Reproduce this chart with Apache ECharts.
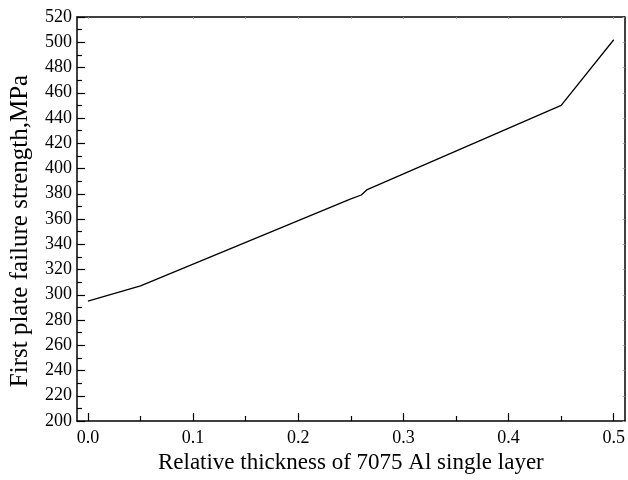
<!DOCTYPE html>
<html><head><meta charset="utf-8">
<script src="https://cdn.jsdelivr.net/npm/echarts@6/dist/echarts.min.js"></script>
<style>html,body{margin:0;padding:0;background:#fff}#c{width:628px;height:480px}</style>
</head><body><div id="c"></div>
<script>
var xValues = [0.0, 0.05, 0.25, 0.26, 0.265, 0.45, 0.5];
var strength = [295, 307, 376, 379, 383, 450, 502];
var xTickLabels = [0.0, 0.1, 0.2, 0.3, 0.4, 0.5];
var xMinorTicks = [0.05, 0.15, 0.25, 0.35, 0.45];
var xTopTicks = [0.0, 0.05, 0.1, 0.15, 0.2, 0.25, 0.3, 0.35, 0.4, 0.45, 0.5];
var xTitle = 'Relative thickness of 7075 Al single layer';
var yTitle = 'First plate failure strength,MPa';

var font = 'Liberation Serif';
var data = xValues.map(function (x, i) { return [x, strength[i]]; });
var chart = echarts.init(document.getElementById('c'));
var xMin = -0.0104, xMax = 0.5104;
chart.setOption({
  animation: false,
  grid: { left: 77, right: 1, top: 17, bottom: 59, containLabel: false },
  xAxis: [
    { type: 'value', min: xMin, max: xMax, position: 'bottom',
      axisLine: { show: true, onZero: false, lineStyle: { color: '#000', width: 1.5 } },
      axisTick: { show: true, inside: true, length: 8, customValues: xTickLabels, lineStyle: { color: '#000', width: 1.2 } },
      axisLabel: { show: true, customValues: xTickLabels, formatter: function (v) { return v.toFixed(1); },
        color: '#000', fontFamily: font, fontSize: 18, margin: 8 },
      splitLine: { show: false },
      name: xTitle, nameLocation: 'middle', nameGap: 27,
      nameTextStyle: { color: '#000', fontFamily: font, fontSize: 23 } },
    { type: 'value', min: xMin, max: xMax, position: 'bottom', gridIndex: 0,
      axisLine: { show: false, onZero: false },
      axisTick: { show: true, inside: true, length: 5, customValues: xMinorTicks, lineStyle: { color: '#000', width: 1.2 } },
      axisLabel: { show: false }, splitLine: { show: false } },
    { type: 'value', min: xMin, max: xMax, position: 'top', gridIndex: 0,
      axisLine: { show: true, onZero: false, lineStyle: { color: '#000', width: 1.5 } },
      axisTick: { show: true, inside: true, length: 2, customValues: xTopTicks, lineStyle: { color: '#999', width: 1 } },
      axisLabel: { show: false }, splitLine: { show: false } }
  ],
  yAxis: [
    { type: 'value', min: 200, max: 520, interval: 20, position: 'left',
      axisLine: { show: true, onZero: false, lineStyle: { color: '#000', width: 1.5 } },
      axisTick: { show: true, inside: true, length: 8, lineStyle: { color: '#000', width: 1.2 } },
      minorTick: { show: true, splitNumber: 2, length: 5, lineStyle: { color: '#000', width: 1.2 } },
      axisLabel: { color: '#000', fontFamily: font, fontSize: 18, margin: 5 },
      splitLine: { show: false },
      name: yTitle, nameLocation: 'middle', nameGap: 44,
      nameTextStyle: { color: '#000', fontFamily: font, fontSize: 25, padding: [0, 24, 0, 0] } },
    { type: 'value', min: 200, max: 520, interval: 20, position: 'right',
      axisLine: { show: true, onZero: false, lineStyle: { color: '#000', width: 1.5 } },
      axisTick: { show: true, inside: true, length: 2, lineStyle: { color: '#aaa', width: 1 } },
      axisLabel: { show: false }, splitLine: { show: false } }
  ],
  series: [{
    type: 'line', data: data, xAxisIndex: 0, yAxisIndex: 0,
    showSymbol: false, symbol: 'none', smooth: false,
    lineStyle: { color: '#000', width: 1.3 }
  }]
});
</script></body></html>
